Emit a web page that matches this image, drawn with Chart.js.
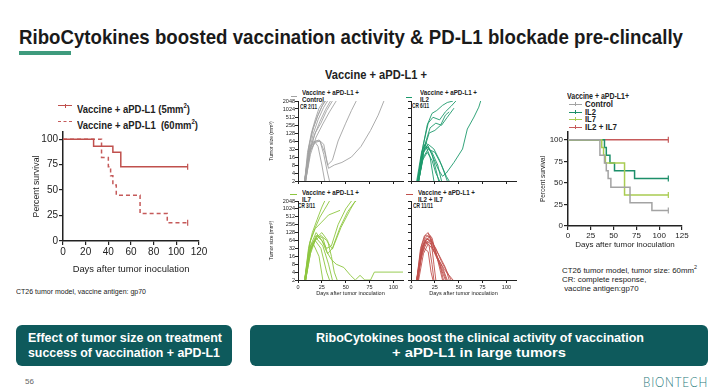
<!DOCTYPE html>
<html>
<head>
<meta charset="utf-8">
<script src="https://cdn.jsdelivr.net/npm/chart.js@4.4.0/dist/chart.umd.min.js"></script>
<style>
  html, body { margin: 0; padding: 0; background: #fff; }
  body {
    width: 716px; height: 389px; position: relative; overflow: hidden;
    font-family: "Liberation Sans", Arial, sans-serif;
    color: #222;
  }
  .t { position: absolute; white-space: nowrap; transform-origin: 0 0; }
  .b { font-weight: bold; }
  canvas { position: absolute; }
  .sym { position: absolute; height: 0; }
  .tick { position: absolute; width: 0; height: 4px; }
  .box { position: absolute; top: 325px; height: 41px; background: #0e5a5c; border-radius: 6px; }
  .bt { color: #fff; font-weight: bold; font-size: 13px; line-height: 15px; }
</style>
</head>
<body>

<div class="t b" data-w="664" style="left:19px; top:25px; font-size:21px; line-height:24px; color:#1a1a1a;">RiboCytokines boosted vaccination activity &amp; PD-L1 blockade pre-clincally</div>
<div style="position:absolute; left:19px; top:51px; width:52px; height:4px; background:#3e9b7d;"></div>

<!-- left survival legend -->
<div class="sym" style="left:58px; top:105px; width:14px; border-top:1.5px solid #c0504d;"></div>
<div class="tick" style="left:64.5px; top:103.5px; border-left:1px solid #c0504d;"></div>
<div class="t b" data-w="113" style="left:77px; top:99px; font-size:11px; line-height:14px;">Vaccine + aPD-L1 (5mm<sup style="font-size:7px;">2</sup>)</div>
<div class="sym" style="left:58px; top:121px; width:14px; border-top:1.5px dashed #c55a5a;"></div>
<div class="t b" data-w="121" style="left:77px; top:115px; font-size:11px; line-height:14px;">Vaccine + aPD-L1 &nbsp;(60mm<sup style="font-size:7px;">2</sup>)</div>
<div class="t" data-w="130" style="left:16px; top:287px; font-size:7.5px; line-height:10px;">CT26 tumor model, vaccine antigen: gp70</div>

<!-- middle header and panel legends -->
<div class="t b" data-w="102" style="left:325px; top:68px; font-size:12px; line-height:14px;">Vaccine + aPD-L1 +</div>

<div class="sym" style="left:291px; top:96px; width:6px; border-top:1px solid #a3a3a3;"></div>
<div class="t b" data-w="57" style="left:302px; top:89px; font-size:7px; line-height:7px;">Vaccine + aPD-L1 +<br>Control</div>
<div class="t b" data-w="17" style="left:300px; top:103px; font-size:7px; line-height:8px;">CR 2/11</div>

<div class="sym" style="left:406px; top:97px; width:6px; border-top:1px solid #1d9a6c;"></div>
<div class="t b" data-w="57" style="left:420px; top:89px; font-size:7px; line-height:7px;">Vaccine + aPD-L1 +<br>IL2</div>
<div class="t b" data-w="17" style="left:412px; top:102px; font-size:7px; line-height:8px;">CR 6/11</div>

<div class="sym" style="left:290px; top:194px; width:7px; border-top:1px solid #8dc63f;"></div>
<div class="t b" data-w="57" style="left:302px; top:189px; font-size:7px; line-height:7px;">Vaccine + aPD-L1 +<br>IL7</div>
<div class="t b" data-w="17" style="left:298px; top:202px; font-size:7px; line-height:8px;">CR 3/11</div>

<div class="sym" style="left:406px; top:194px; width:7px; border-top:1px solid #c0504d;"></div>
<div class="t b" data-w="57" style="left:418px; top:189px; font-size:7px; line-height:7px;">Vaccine + aPD-L1 +<br>IL2 + IL7</div>
<div class="t b" data-w="20" style="left:413px; top:202px; font-size:7px; line-height:8px;">CR 11/11</div>

<!-- right survival legend -->
<div class="t b" data-w="62" style="left:567px; top:91px; font-size:8.5px; line-height:10px;">Vaccine + aPD-L1+</div>
<div class="sym" style="left:569px; top:104px; width:13px; border-top:1px solid #a3a3a3;"></div>
<div class="tick" style="left:575px; top:102px; border-left:1px solid #a3a3a3;"></div>
<div class="t b" data-w="28" style="left:585px; top:99px; font-size:8.5px; line-height:10px;">Control</div>
<div class="sym" style="left:569px; top:111.5px; width:13px; border-top:1px solid #1d8f6a;"></div>
<div class="tick" style="left:575px; top:109.5px; border-left:1px solid #1d8f6a;"></div>
<div class="t b" data-w="11" style="left:585px; top:106.5px; font-size:8.5px; line-height:10px;">IL2</div>
<div class="sym" style="left:569px; top:119px; width:13px; border-top:1px solid #a9cc52;"></div>
<div class="tick" style="left:575px; top:117px; border-left:1px solid #a9cc52;"></div>
<div class="t b" data-w="11" style="left:585px; top:114px; font-size:8.5px; line-height:10px;">IL7</div>
<div class="sym" style="left:569px; top:126.5px; width:13px; border-top:1px solid #c65a5a;"></div>
<div class="tick" style="left:575px; top:124.5px; border-left:1px solid #c65a5a;"></div>
<div class="t b" data-w="32" style="left:585px; top:121.5px; font-size:8.5px; line-height:10px;">IL2 + IL7</div>

<div class="t" data-w="135" style="left:562px; top:263px; font-size:8px; line-height:9px;">CT26 tumor model, tumor size: 60mm<sup style="font-size:5.5px;">2</sup><br>CR: complete response,<br>&nbsp;vaccine antigen:gp70</div>

<canvas id="kmLeft" width="185" height="150" style="left:30px; top:125px;"></canvas>
<canvas id="spCtrl" width="145" height="90" style="left:262px; top:96px;"></canvas>
<canvas id="spIL2" width="115" height="90" style="left:405px; top:96px;"></canvas>
<canvas id="spIL7" width="145" height="101" style="left:262px; top:196px;"></canvas>
<canvas id="spCombo" width="115" height="101" style="left:405px; top:196px;"></canvas>
<canvas id="kmRight" width="155" height="124" style="left:535px; top:126px;"></canvas>

<div class="box" style="left:16px; width:216px;"></div>
<div class="box" style="left:250px; width:458px;"></div>
<div class="t bt" data-w="194" style="left:28px; top:330px;">Effect of tumor size on treatment</div>
<div class="t bt" data-w="192" style="left:28px; top:345px;">success of vaccination + aPD-L1</div>
<div class="t bt" data-w="328" style="left:316px; top:330px;">RiboCytokines boost the clinical activity of vaccination</div>
<div class="t bt" data-w="174" style="left:392px; top:345px;">+ aPD-L1 in large tumors</div>

<div class="t" style="left:25px; top:377px; font-size:8px; line-height:10px; color:#666;">56</div>
<div class="t" data-w="65" style="left:643px; top:374px; font-size:14px; line-height:15px; color:#1f7a7c; letter-spacing:1px; font-family:Lato, 'Liberation Sans', sans-serif; font-weight:300;">BIONTECH</div>

<script>
// survival (Kaplan-Meier) data
const survTicks = [0, 25, 50, 75, 100];
const leftDayTicks = [0, 20, 40, 60, 80, 100, 120];
const rightDayTicks = [0, 25, 50, 75, 100, 125];

const days5mm = [0, 27, 44, 51, 110];
const surv5mm = [100, 93, 87, 73, 73];
const days60mm = [0, 34, 40, 42, 44, 47, 68, 92, 110];
const surv60mm = [100, 82, 73, 64, 55, 45, 27, 18, 18];

const daysCtrl = [0, 35, 40, 42, 44, 47, 68, 92, 110];
const survCtrl = [100, 82, 73, 64, 55, 45, 27, 18, 18];
const daysIL2 = [0, 40, 42, 46, 51, 73, 110];
const survIL2 = [100, 91, 82, 73, 64, 55, 55];
const daysIL7 = [0, 37, 39, 41, 62, 110];
const survIL7 = [100, 91, 82, 73, 36, 36];
const daysCombo = [0, 110];
const survCombo = [100, 100];

// tumor growth curves: [day, tumor size mm3]
const tumorTicks = [2, 4, 8, 16, 32, 64, 128, 256, 512, 1024, 2048];
const spiderDayTicks = [0, 25, 50, 75, 100];

const ctrlMice = [
  [[7,2],[10,24],[14,128],[18,400],[22,1100],[27,2048]],
  [[7,2],[11,32],[15,150],[20,500],[25,1300],[29,2048]],
  [[7,2],[11,20],[16,120],[21,400],[27,1200],[31,2048]],
  [[8,2],[12,24],[17,100],[23,350],[29,1000],[34,2048]],
  [[8,2],[13,32],[18,128],[24,300],[30,900],[36,2048]],
  [[8,2],[13,20],[19,90],[26,280],[33,800],[40,2048]],
  [[7,2],[12,40],[17,64],[21,40],[25,8],[28,2]],
  [[7,2],[12,24],[18,56],[23,64],[27,20],[31,4],[33,2]],
  [[7,2],[12,32],[17,60],[22,70],[27,48],[31,8],[36,12],[42,64],[50,300],[56,900],[61,2048]],
  [[8,2],[13,28],[18,64],[23,64],[28,24],[32,6],[38,8],[46,10],[56,16],[66,40],[76,160],[84,600],[90,2048]],
  [[7,2],[12,48],[16,200],[21,600],[26,1500],[28,2048]]
];
const il2Mice = [
  [[7,2],[12,32],[17,256],[22,700],[27,900],[33,1400],[38,1800],[44,2048]],
  [[7,2],[13,48],[18,300],[23,500],[30,400],[36,800],[42,1300],[47,2048]],
  [[8,2],[14,40],[20,200],[26,300],[32,250],[38,500],[45,1100]],
  [[8,2],[14,32],[19,128],[25,160],[31,250],[36,600],[40,800]],
  [[8,2],[13,24],[18,40],[23,16],[28,6],[33,3],[37,4],[45,10],[54,32],[59,180],[66,512],[71,1200],[73,2048]],
  [[6,2],[11,24],[15,48],[20,16],[24,2]],
  [[7,2],[12,32],[16,56],[22,20],[27,4],[29,2]],
  [[7,2],[12,20],[16,40],[22,24],[28,8],[32,2]],
  [[7,2],[13,28],[18,48],[24,32],[30,12],[35,4],[38,2]],
  [[8,2],[13,16],[18,32],[25,24],[32,8],[37,3],[40,2]],
  [[8,2],[12,12],[17,24],[22,12],[26,4],[30,2]]
];
const il7Mice = [
  [[7,2],[11,32],[15,128],[20,400],[25,1200],[28,2048]],
  [[7,2],[12,48],[17,160],[23,500],[28,1000],[33,2048]],
  [[7,2],[13,64],[18,180],[24,300],[32,600],[44,900]],
  [[8,2],[13,40],[19,128],[25,64],[30,32],[35,40],[42,256],[50,1024],[56,2048]],
  [[8,2],[14,32],[20,100],[26,80],[31,20],[36,32],[44,200],[52,800],[59,1800],[61,2048]],
  [[7,2],[12,24],[18,64],[24,100],[30,64],[36,30],[45,200],[55,1000],[60,2048]],
  [[8,2],[13,20],[19,80],[25,128],[31,64],[35,16],[38,4],[41,2]],
  [[8,2],[13,32],[19,100],[25,64],[30,24],[35,12],[40,8],[48,6],[55,3],[60,2],[65,3],[70,2],[76,2],[80,4],[110,4]],
  [[7,2],[12,24],[18,64],[24,32],[30,4],[33,2]],
  [[7,2],[11,16],[16,48],[22,16],[26,2]],
  [[8,2],[13,40],[19,80],[26,40],[32,8],[36,2]]
];
const comboMice = [
  [[6,2],[10,32],[14,96],[18,128],[21,64],[24,8],[26,2]],
  [[6,2],[10,24],[15,80],[19,110],[22,80],[27,16],[31,4],[33,2]],
  [[7,2],[11,40],[15,100],[19,90],[23,48],[28,12],[34,4],[37,2]],
  [[7,2],[11,20],[16,64],[20,96],[24,40],[30,16],[36,6],[40,2]],
  [[7,2],[12,32],[16,72],[21,64],[26,32],[32,10],[38,4],[42,2]],
  [[6,2],[10,16],[14,48],[19,64],[23,32],[29,12],[35,5],[40,3],[44,2]],
  [[7,2],[12,24],[17,56],[21,48],[25,20],[30,8],[34,2]],
  [[6,2],[11,28],[15,64],[19,40],[22,8],[24,2]],
  [[7,2],[12,40],[17,80],[21,56],[26,24],[31,6],[36,2]],
  [[8,2],[13,20],[18,48],[22,32],[27,16],[33,6],[38,2]],
  [[6,2],[10,12],[14,32],[18,24],[21,4],[23,2]]
];

// squeeze the html labels to the narrow widths of the slide font
document.querySelectorAll('[data-w]').forEach(function (el) {
  const w = el.getBoundingClientRect().width;
  el.style.transform = 'scaleX(' + (Number(el.dataset.w) / w) + ')';
});

Chart.defaults.font.family = '"Liberation Sans", Arial, sans-serif';
Chart.defaults.color = '#222';
Chart.defaults.animation = false;

const axisColor = '#222';

function setTicks(values) {
  return function (scale) {
    scale.ticks = values.map(v => ({ value: v }));
  };
}

function kmDataset(days, surv, color, dash) {
  const n = days.length;
  return {
    data: days.map((d, i) => ({ x: d, y: surv[i] })),
    borderColor: color,
    borderWidth: 1.5,
    borderDash: dash || [],
    stepped: 'before',
    pointStyle: 'line',
    rotation: 90,
    pointBorderWidth: 1.2,
    pointRadius: ctx => (ctx.dataIndex === n - 1 ? 3 : 0),
    fill: false
  };
}

function makeKM(id, datasets, dayTicks, maxDay, maxY, yWidth, xHeight, pad, cfg) {
  new Chart(document.getElementById(id), {
    type: 'line',
    data: { datasets: datasets },
    options: {
      responsive: false,
      plugins: { legend: { display: false }, tooltip: { enabled: false } },
      layout: { padding: pad },
      scales: {
        x: {
          type: 'linear', min: 0, max: maxDay,
          afterBuildTicks: setTicks(dayTicks),
          afterFit: s => { s.height = xHeight; },
          grid: { drawOnChartArea: false, tickLength: 4, color: axisColor, lineWidth: 1.2 },
          border: { color: axisColor, width: 1.5 },
          ticks: { padding: 1, font: { size: cfg.tick }, maxRotation: 0, autoSkip: false },
          title: { display: true, text: 'Days after tumor inoculation', padding: 0, font: { size: cfg.xTitle } }
        },
        y: {
          min: 0, max: maxY,
          afterBuildTicks: setTicks(survTicks),
          afterFit: s => { s.width = yWidth; },
          grid: { drawOnChartArea: false, tickLength: 4, color: axisColor, lineWidth: 1.2 },
          border: { color: axisColor, width: 1.5 },
          ticks: { padding: 1, font: { size: cfg.tick }, autoSkip: false },
          title: { display: true, text: 'Percent survival', padding: { top: cfg.yPad, bottom: 0 }, font: { size: cfg.yTitle } }
        }
      }
    }
  });
}

function makeSpider(id, mice, color, showY, showX, yWidth, xHeight) {
  new Chart(document.getElementById(id), {
    type: 'line',
    data: {
      datasets: mice.map(m => ({
        data: m.map(p => ({ x: p[0], y: p[1] })),
        borderColor: color,
        borderWidth: 0.9,
        pointRadius: 0,
        fill: false
      }))
    },
    options: {
      responsive: false,
      plugins: { legend: { display: false }, tooltip: { enabled: false } },
      layout: { padding: { top: 5, right: 4, left: 0, bottom: 0 } },
      scales: {
        x: {
          type: 'linear', min: 0, max: 110,
          afterBuildTicks: setTicks(spiderDayTicks),
          afterFit: s => { s.height = xHeight; },
          grid: { drawOnChartArea: false, tickLength: 3, color: axisColor },
          border: { color: axisColor, width: 1 },
          ticks: { display: showX, padding: 1, font: { size: 5.5 }, maxRotation: 0, autoSkip: false },
          title: { display: showX, text: 'Days after tumor inoculation', padding: 0, font: { size: 5.5 } }
        },
        y: {
          type: 'logarithmic', min: 2, max: 2048,
          afterBuildTicks: setTicks(tumorTicks),
          afterFit: s => { s.width = yWidth; },
          grid: { drawOnChartArea: false, tickLength: 3, color: axisColor },
          border: { color: axisColor, width: 1 },
          ticks: { display: showY, padding: 0, font: { size: 5.5 }, autoSkip: false, callback: v => String(v) },
          title: { display: showY, text: 'Tumor size (mm\u00b3)', padding: { top: 7, bottom: 0 }, font: { size: 5 } }
        }
      }
    }
  });
}

makeKM('kmLeft', [
  kmDataset(days5mm, surv5mm, '#c0504d'),
  kmDataset(days60mm, surv60mm, '#c55a5a', [4, 3])
], leftDayTicks, 120, 107, 33, 34, { top: 7, right: 16, left: 0, bottom: 0 },
  { tick: 10, xTitle: 9.4, yTitle: 8.7, yPad: 1 });

makeKM('kmRight', [
  kmDataset(daysCtrl, survCtrl, '#a3a3a3'),
  kmDataset(daysIL7, survIL7, '#a9cc52'),
  kmDataset(daysIL2, survIL2, '#1d8f6a'),
  kmDataset(daysCombo, survCombo, '#c65a5a')
], rightDayTicks, 125, 109, 33, 24, { top: 6, right: 8, left: 0, bottom: 0 },
  { tick: 8, xTitle: 8, yTitle: 6.5, yPad: 4 });

makeSpider('spCtrl', ctrlMice, '#a3a3a3', true, false, 36, 5);
makeSpider('spIL2', il2Mice, '#1d9a6c', false, false, 6, 5);
makeSpider('spIL7', il7Mice, '#8dc63f', true, true, 36, 17);
makeSpider('spCombo', comboMice, '#c0504d', false, true, 6, 17);
</script>
</body>
</html>
